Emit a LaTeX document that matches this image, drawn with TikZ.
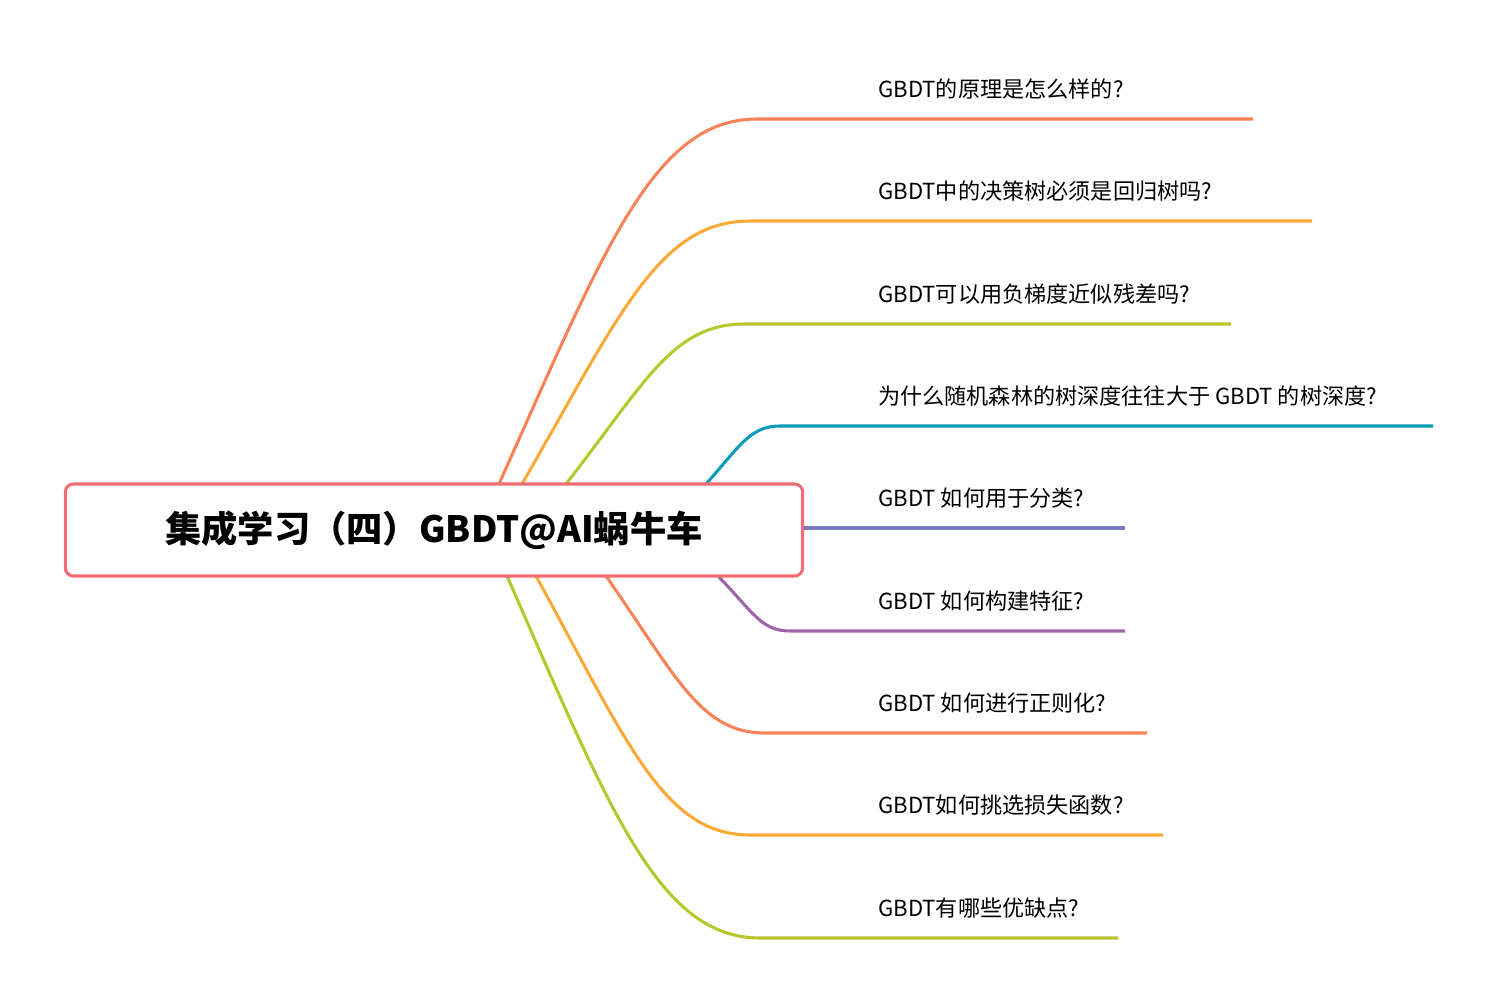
\documentclass[tikz,border=0pt]{standalone}
\usepackage{fontspec}
\setmainfont{Noto Sans CJK SC}
\usepackage{tikz}
\usetikzlibrary{positioning}

\definecolor{rootred}{RGB}{240,110,115}
\definecolor{brcoral}{RGB}{250,130,88}
\definecolor{brorange}{RGB}{252,170,55}
\definecolor{brgreen}{RGB}{182,200,45}
\definecolor{brteal}{RGB}{10,155,185}
\definecolor{brblue}{RGB}{122,120,190}
\definecolor{brpurple}{RGB}{160,100,170}

\begin{document}
\begin{tikzpicture}[
        x=0.75pt, y=-0.75pt,
        rootbox/.style={rectangle, draw=rootred, line width=2.3pt, fill=white, rounded corners=6pt,
            minimum width=553pt, minimum height=69pt, inner sep=0pt,
            font=\fontsize{27.2}{32}\selectfont\bfseries},
        question/.style={anchor=west, inner sep=0pt, font=\fontsize{16.6}{20}\selectfont},
        branch/.style={line width=2.3pt}
    ]
        \useasboundingbox (0,0) rectangle (1497,1003);

        % --- Branch curves (behind the root) ---
        \coordinate (s1) at (499,484); \coordinate (e1) at (757,119); \coordinate (t1) at (1253,119);
        \coordinate (s2) at (522,484); \coordinate (e2) at (750,221); \coordinate (t2) at (1312,221);
        \coordinate (s3) at (566,484); \coordinate (e3) at (745,324); \coordinate (t3) at (1231,324);
        \coordinate (s4) at (706,484); \coordinate (e4) at (780,426); \coordinate (t4) at (1433,426);
        \coordinate (s5) at (803,528); \coordinate (t5) at (1125,528);
        \coordinate (s6) at (718,576); \coordinate (e6) at (790,631); \coordinate (t6) at (1125,631);
        \coordinate (s7) at (606,576); \coordinate (e7) at (765,733); \coordinate (t7) at (1147,733);
        \coordinate (s8) at (536,576); \coordinate (e8) at (750,835); \coordinate (t8) at (1163,835);
        \coordinate (s9) at (507,576); \coordinate (e9) at (760,938); \coordinate (t9) at (1118,938);

        \draw [branch, brcoral] (s1) .. controls +(106,-237) and +(-103,0) .. (e1) -- (t1);
        \draw [branch, brorange] (s2) .. controls +(98,-170) and +(-91,0) .. (e2) -- (t2);
        \draw [branch, brgreen] (s3) .. controls +(81,-104) and +(-72,0) .. (e3) -- (t3);
        \draw [branch, brteal] (s4) .. controls +(34,-38) and +(-30,0) .. (e4) -- (t4);
        \draw [branch, brblue] (s5) -- (t5);
        \draw [branch, brpurple] (s6) .. controls +(35,36) and +(-29,0) .. (e6) -- (t6);
        \draw [branch, brcoral] (s7) .. controls +(71,102) and +(-64,0) .. (e7) -- (t7);
        \draw [branch, brorange] (s8) .. controls +(92,168) and +(-86,0) .. (e8) -- (t8);
        \draw [branch, brgreen] (s9) .. controls +(103,235) and +(-101,0) .. (e9) -- (t9);

        % --- Root ---
        \node (root) [rootbox] at (434,530) {集成学习（四）GBDT@AI蜗牛车};

        % --- Questions ---
        \node (q1) [question] at (878,89) {GBDT的原理是怎么样的?};
        \node (q2) [question] at (878,191) {GBDT中的决策树必须是回归树吗?};
        \node (q3) [question] at (878,294) {GBDT可以用负梯度近似残差吗?};
        \node (q4) [question] at (878,396) {为什么随机森林的树深度往往大于 GBDT 的树深度?};
        \node (q5) [question] at (878,498) {GBDT 如何用于分类?};
        \node (q6) [question] at (878,601) {GBDT 如何构建特征?};
        \node (q7) [question] at (878,703) {GBDT 如何进行正则化?};
        \node (q8) [question] at (878,805) {GBDT如何挑选损失函数?};
        \node (q9) [question] at (878,908) {GBDT有哪些优缺点?};

    \end{tikzpicture}
\end{document}
